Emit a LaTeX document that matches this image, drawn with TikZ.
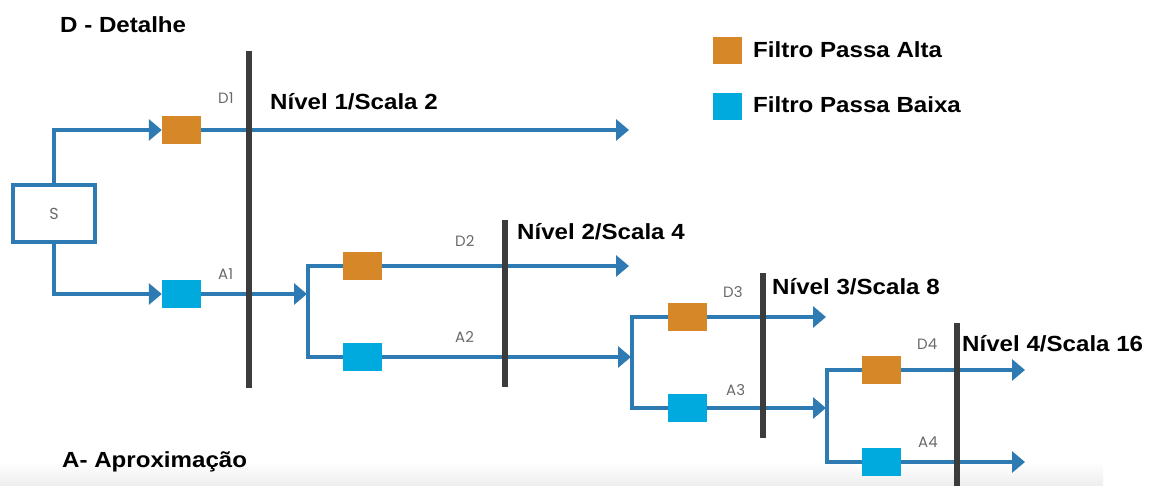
\documentclass[tikz,border=0pt]{standalone}
\usepackage{fontspec}
\setmainfont{Liberation Sans}
\newfontfamily\smallfont{Poppins}
\usetikzlibrary{arrows.meta}
\definecolor{flowblue}{RGB}{46,123,180}
\definecolor{hiorange}{RGB}{214,136,40}
\definecolor{locyan}{RGB}{0,169,222}
\definecolor{bargray}{RGB}{60,60,60}
\definecolor{lblgray}{RGB}{105,105,105}
\newcommand\wide[1]{\scalebox{1.1}[1]{#1}}
\tikzset{
  flow/.style={draw=flowblue, line width=4.2bp},
  flowarrow/.style={flow, -{Triangle[length=13bp,width=21bp]}},
  hibox/.style={fill=hiorange, minimum width=39bp, minimum height=28bp, inner sep=0pt},
  lobox/.style={fill=locyan, minimum width=39bp, minimum height=28bp, inner sep=0pt},
  sbox/.style={draw=flowblue, line width=4bp, minimum width=81bp, minimum height=57bp, inner sep=0pt, font=\smallfont\fontsize{16}{18}\selectfont, text=lblgray},
  sublabel/.style={anchor=base west, inner sep=0pt, text=lblgray, font=\smallfont\fontsize{15}{17}\selectfont},
  titlelabel/.style={anchor=base west, inner sep=0pt, font=\bfseries\fontsize{22}{24}\selectfont},
  levelbar/.style={draw=bargray, line width=6bp},
  legendsq/.style={minimum width=29bp, minimum height=27bp, inner sep=0pt}
}
\begin{document}
\begin{tikzpicture}[x=1bp,y=-1bp]
\useasboundingbox (0,0) rectangle (1149,486);
\shade[top color=white, bottom color=gray!14] (0,462) rectangle (1103,486);

% titles
\node[titlelabel] (dtitle) at (60,32.5) {\wide{D - Detalhe}};
\node[titlelabel] (atitle) at (62,467) {\wide{A- Aproximação}};

% legend
\node[legendsq, fill=hiorange] (leghi) at (727.5,50.5) {};
\node[legendsq, fill=locyan] (leglo) at (727.5,106.5) {};
\node[titlelabel] (leghitxt) at (753,58) {\wide{Filtro Passa Alta}};
\node[titlelabel] (leglotxt) at (753,113) {\wide{Filtro Passa Baixa}};

% source
\node[sbox] (S) at (54,213.5) {S};

% filters
\node[hibox] (h1) at (181.5,130) {};
\node[lobox] (l1) at (181.5,294) {};
\node[hibox] (h2) at (362.5,266) {};
\node[lobox] (l2) at (362.5,357) {};
\node[hibox] (h3) at (687.5,317) {};
\node[lobox] (l3) at (687.5,408) {};
\node[hibox] (h4) at (881.5,370) {};
\node[lobox] (l4) at (881.5,462) {};

% junctions and free ends
\coordinate (j1) at (308,294);
\coordinate (j2) at (632,357);
\coordinate (j3) at (827,408);
\coordinate (d1end) at (629,130);
\coordinate (d2end) at (629,266);
\coordinate (d3end) at (826,317);
\coordinate (d4end) at (1025,370);
\coordinate (a4end) at (1025,462);

% connectors
\draw[flowarrow] (S.north) |- (h1.west);
\draw[flowarrow] (S.south) |- (l1.west);
\draw[flowarrow] (h1.east) -- (d1end);
\draw[flowarrow] (l1.east) -- ([xshift=-1bp]j1);
\draw[flow] (h2.west) -| (j1) |- (l2.west);
\draw[flowarrow] (h2.east) -- (d2end);
\draw[flowarrow] (l2.east) -- ([xshift=-1bp]j2);
\draw[flow] (h3.west) -| (j2) |- (l3.west);
\draw[flowarrow] (h3.east) -- (d3end);
\draw[flowarrow] (l3.east) -- ([xshift=-1bp]j3);
\draw[flow] (h4.west) -| (j3) |- (l4.west);
\draw[flowarrow] (h4.east) -- (d4end);
\draw[flowarrow] (l4.east) -- (a4end);

% level bars
\coordinate (b1t) at (249,51);  \coordinate (b1b) at (249,388);
\coordinate (b2t) at (505,220); \coordinate (b2b) at (505,387);
\coordinate (b3t) at (763,273); \coordinate (b3b) at (763,438);
\coordinate (b4t) at (957,323); \coordinate (b4b) at (957,490);
\draw[levelbar] (b1t) -- (b1b);
\draw[levelbar] (b2t) -- (b2b);
\draw[levelbar] (b3t) -- (b3b);
\draw[levelbar] (b4t) -- (b4b);

% level titles
\node[titlelabel] (n1) at (270,110) {\wide{Nível 1/Scala 2}};
\node[titlelabel] (n2) at (517,240) {\wide{Nível 2/Scala 4}};
\node[titlelabel] (n3) at (772,295) {\wide{Nível 3/Scala 8}};
\node[titlelabel] (n4) at (962,352) {\wide{Nível 4/Scala 16}};

% sub labels
\node[sublabel] (D1) at (218,104) {D1};
\node[sublabel] (A1) at (218,280) {A1};
\node[sublabel] (D2) at (455,247) {D2};
\node[sublabel] (A2) at (455,343) {A2};
\node[sublabel] (D3) at (723,298) {D3};
\node[sublabel] (A3) at (726,395) {A3};
\node[sublabel] (D4) at (917,350) {D4};
\node[sublabel] (A4) at (918,447) {A4};
\end{tikzpicture}
\end{document}
